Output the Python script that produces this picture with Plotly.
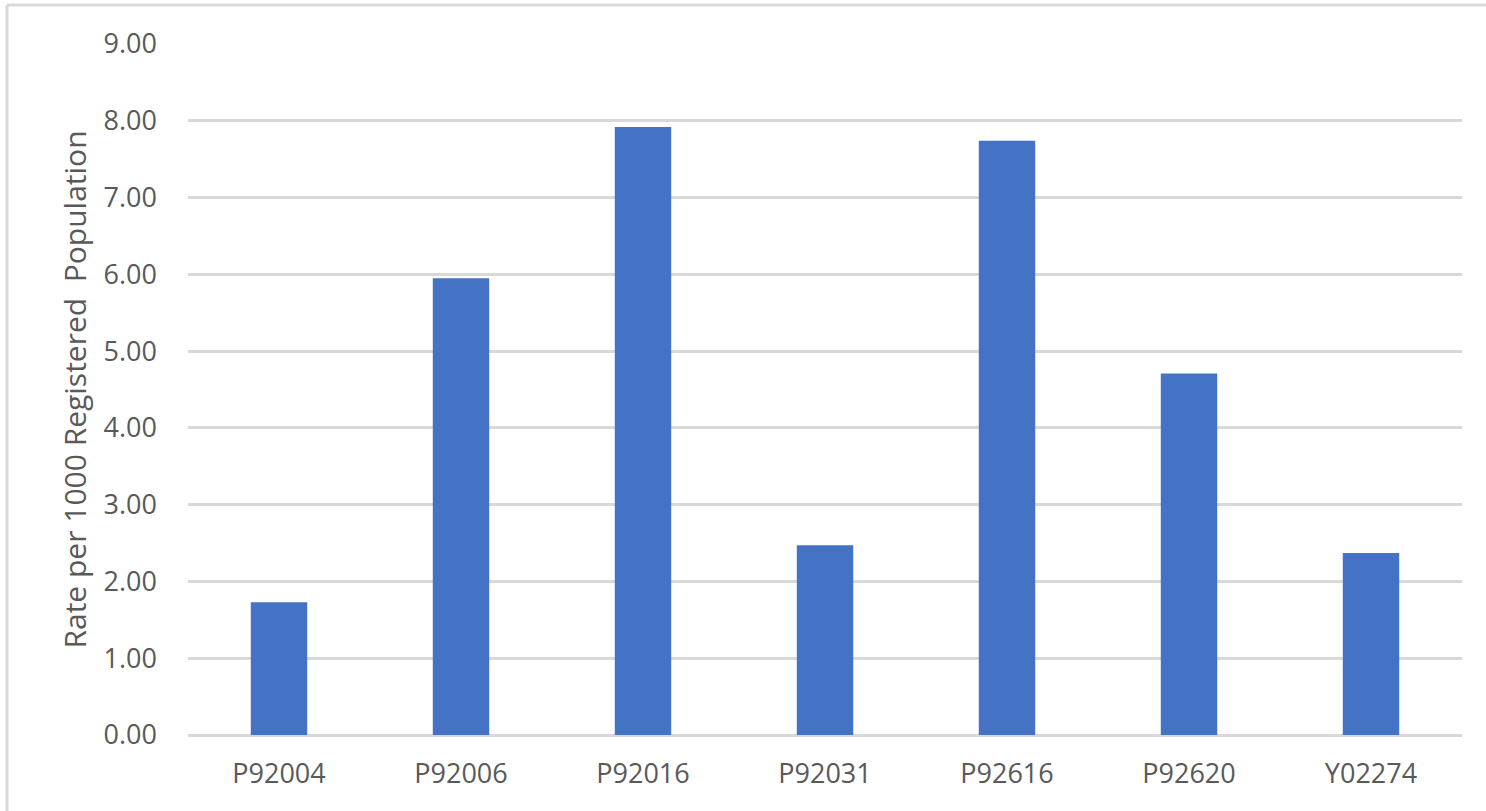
import plotly.graph_objs as go

practices = ["P92004", "P92006", "P92016", "P92031", "P92616", "P92620", "Y02274"]
rates = [1.73, 5.95, 7.92, 2.47, 7.74, 4.71, 2.37]
y_ticks = [0, 1, 2, 3, 4, 5, 6, 7, 8, 9]

W, H = 1486, 811
ML, MR, MT, MB = 188, 24, 44, 76
PW, PH = W - ML - MR, H - MT - MB

TEXT = "#595959"
GRID = "#d9d9d9"
FONT = "Open Sans, Segoe UI, sans-serif"

fig = go.Figure()
fig.add_trace(
    go.Bar(
        x=practices,
        y=rates,
        marker={"color": "#4472C4", "line": {"width": 0}},
        hovertemplate="%{x}: %{y:.2f}<extra></extra>",
    )
)


def px_x(p):
    # pixel -> paper coordinate
    return (p - ML) / PW


def px_y(p):
    return (H - MB - p) / PH


# chart-area border (top + left only, as in the source screenshot)
fig.add_shape(type="line", xref="paper", yref="paper",
              x0=px_x(7), x1=px_x(W + 5), y0=px_y(5), y1=px_y(5),
              line={"color": GRID, "width": 3})
fig.add_shape(type="line", xref="paper", yref="paper",
              x0=px_x(7), x1=px_x(7), y0=px_y(5), y1=px_y(H + 5),
              line={"color": GRID, "width": 3})

fig.update_layout(
    width=W,
    height=H,
    margin={"l": ML, "r": MR, "t": MT, "b": MB, "pad": 0},
    paper_bgcolor="white",
    plot_bgcolor="white",
    showlegend=False,
    bargap=0.69,
    font={"family": FONT, "size": 27, "color": TEXT},
    xaxis={
        "showgrid": False,
        "showline": False,
        "zeroline": False,
        "ticks": "",
        "ticklabelstandoff": 20,
        "tickfont": {"size": 27, "color": TEXT},
    },
    yaxis={
        "range": [0, 9],
        "tickvals": y_ticks,
        "tickformat": ".2f",
        "showgrid": True,
        "gridcolor": GRID,
        "gridwidth": 2.5,
        "zeroline": True,
        "zerolinecolor": GRID,
        "zerolinewidth": 2.5,
        "showline": False,
        "ticks": "",
        "ticklabelstandoff": 30,
        "tickfont": {"size": 27, "color": TEXT},
        "title": {
            "text": "Rate per 1000 Registered\u00a0 Population",
            "font": {"size": 30, "color": TEXT},
            "standoff": 8,
        },
    },
)

# drop the default 8px body margin so the figure sits at the page origin
fig.write_html(
    "out.html",
    config={"displayModeBar": False},
    post_script="document.body.style.margin='0';document.body.style.overflow='hidden';",
)
